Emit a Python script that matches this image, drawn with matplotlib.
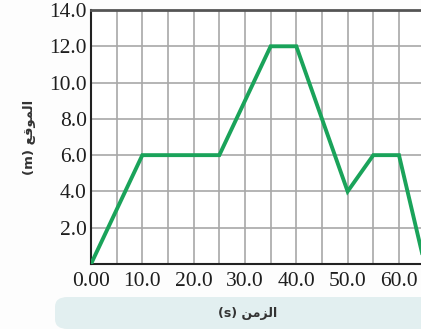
import matplotlib.pyplot as plt
from matplotlib.patches import FancyBboxPatch

# data
time_s = [0, 10, 25, 35, 40, 50, 55, 60, 65]
position_m = [0, 6, 6, 12, 12, 4, 6, 6, 0]
x_ticks = [0, 10, 20, 30, 40, 50, 60]
x_tick_labels = ["0.00", "10.0", "20.0", "30.0", "40.0", "50.0", "60.0"]
y_ticks = [2, 4, 6, 8, 10, 12, 14]
y_tick_labels = ["2.0", "4.0", "6.0", "8.0", "10.0", "12.0", "14.0"]

# Arabic written in presentation forms (visual order) since matplotlib does no shaping
x_label = "(s) \ufee6\ufee3\ufeb0\ufedf\ufe8d"
y_label = "(m) \ufeca\ufed7\ufeee\ufee4\ufedf\ufe8d"

fig = plt.figure(figsize=(4.21, 3.29), dpi=100)
fig.patch.set_facecolor("#fdfdfd")

# light band behind the x label
band = FancyBboxPatch((55 / 421, 0.0), 0.9, 32 / 329, boxstyle="round,pad=0,rounding_size=0.03",
                      transform=fig.transFigure, facecolor="#e2eff0", edgecolor="none", zorder=0)
fig.patches.append(band)

ax = fig.add_axes([91 / 421, 1 - 264 / 329, 359.3 / 421, 254 / 329])
ax.set_facecolor("white")
ax.set_xlim(0, 70)
ax.set_ylim(0, 14)

ax.grid(True, color="#a8a8a8", linewidth=1.2)
ax.set_axisbelow(True)

ax.plot(time_s, position_m, color="#1aa35a", linewidth=2.8, solid_joinstyle="miter", zorder=3)

# grid every 5 s, labels only every 10 s
ax.set_xticks(range(0, 71, 5))
ax.set_xticklabels([x_tick_labels[x_ticks.index(t)] if t in x_ticks else "" for t in range(0, 71, 5)])
ax.set_yticks([0] + y_ticks)
ax.set_yticklabels([""] + y_tick_labels)
ax.tick_params(length=0, labelsize=15.5, colors="#1e1e1e", pad=3)
ax.tick_params(axis="x", pad=6)
for lab in ax.get_xticklabels() + ax.get_yticklabels():
    lab.set_fontfamily("Liberation Serif")

for side in ["left", "bottom"]:
    ax.spines[side].set_color("#222222")
    ax.spines[side].set_linewidth(1.5)
ax.spines["top"].set_color("#555555")
ax.spines["top"].set_linewidth(2)
ax.spines["right"].set_visible(False)

fig.text(248 / 421, 1 - 313 / 329, x_label, ha="center", va="center", fontsize=9,
         fontweight="bold", color="#333333", family="DejaVu Sans")
fig.text(30 / 421, 1 - 137 / 329, y_label, ha="center", va="center", rotation=90, fontsize=9.5,
         fontweight="bold", color="#333333", family="DejaVu Sans")

plt.savefig("out.png", dpi=100)
